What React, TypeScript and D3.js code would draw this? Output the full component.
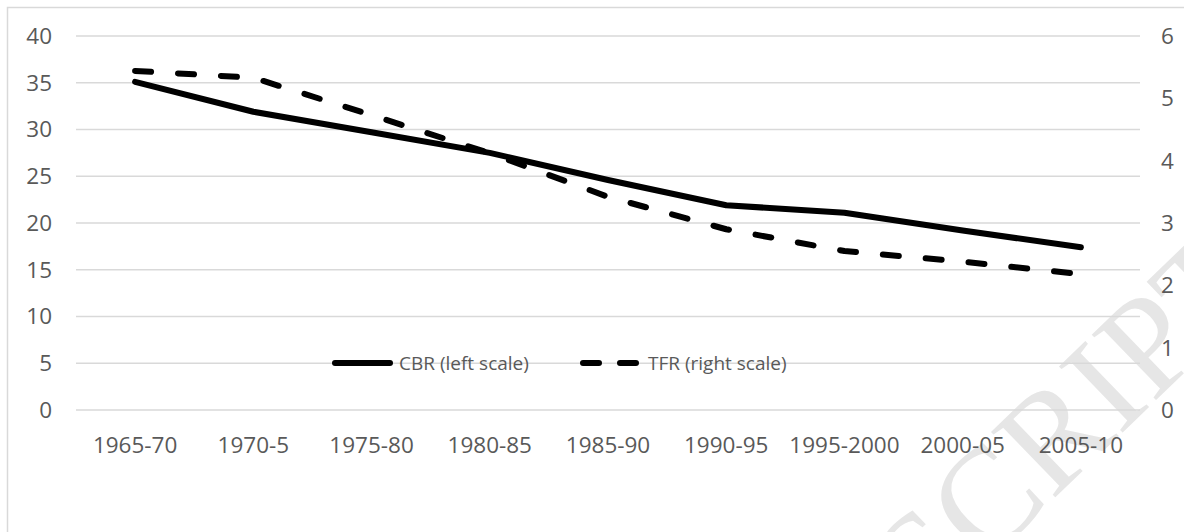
import * as d3 from "d3";

// periods on the x axis
const periods = ["1965-70", "1970-5", "1975-80", "1980-85", "1985-90", "1990-95", "1995-2000", "2000-05", "2005-10"];
// crude birth rate, left scale
const cbr = [35.1, 31.9, 29.7, 27.5, 24.6, 21.9, 21.1, 19.2, 17.4];
// total fertility rate, right scale
const tfr = [5.44, 5.33, 4.73, 4.12, 3.42, 2.9, 2.55, 2.38, 2.18];
const leftTicks = [0, 5, 10, 15, 20, 25, 30, 35, 40];
const rightTicks = [0, 1, 2, 3, 4, 5, 6];

const W = 1184;
const H = 532;
const FONT = "'Open Sans', sans-serif";
const GREY = "#595959";

export default function App() {
  const x = d3.scaleBand<string>().domain(periods).range([76, 1140]).padding(0);
  const yL = d3.scaleLinear().domain([0, 40]).range([410, 36]);
  const yR = d3.scaleLinear().domain([0, 6]).range([410, 36]);
  const cx = (p: string) => (x(p) ?? 0) + x.bandwidth() / 2;

  const cbrLine = d3
    .line<number>()
    .x((_, i) => cx(periods[i]))
    .y((d) => yL(d))(cbr);
  const tfrLine = d3
    .line<number>()
    .x((_, i) => cx(periods[i]))
    .y((d) => yR(d))(tfr);

  return (
    <svg
      width={W}
      height={H}
      style={{ position: "absolute", left: 0, top: 0, background: "#fff" }}
      fontFamily={FONT}
    >
      <rect x={7.5} y={7.5} width={1300} height={700} fill="#fff" stroke="#d9d9d9" strokeWidth={1.5} />

      {/* watermark, cut by the page edge as in the scan */}
      <text
        x={1270}
        y={290}
        transform="rotate(-44 1270 290)"
        textAnchor="end"
        fontFamily="'Liberation Serif', serif"
        fontSize={140}
        fill="#e6e6e6"
      >
        ACCEPTED MANUSCRIPT
      </text>

      {/* gridlines */}
      {leftTicks.map((t) => (
        <line key={t} x1={76} x2={1140} y1={yL(t)} y2={yL(t)} stroke="#d9d9d9" strokeWidth={1.5} />
      ))}

      {/* left axis labels */}
      {leftTicks.map((t) => (
        <text key={t} x={52} y={yL(t)} dy="0.35em" textAnchor="end" fontSize={22.5} fill={GREY}>
          {t}
        </text>
      ))}
      {/* right axis labels */}
      {rightTicks.map((t) => (
        <text key={t} x={1161} y={yR(t)} dy="0.35em" textAnchor="start" fontSize={22.5} fill={GREY}>
          {t}
        </text>
      ))}
      {/* category labels */}
      {periods.map((p) => (
        <text key={p} x={cx(p)} y={453} textAnchor="middle" fontSize={22.5} fill={GREY}>
          {p}
        </text>
      ))}

      <path d={cbrLine ?? ""} fill="none" stroke="#000" strokeWidth={6} strokeLinejoin="round" strokeLinecap="round" />
      <path
        d={tfrLine ?? ""}
        fill="none"
        stroke="#000"
        strokeWidth={6}
        strokeLinejoin="round"
        strokeLinecap="round"
        strokeDasharray="16 27"
      />

      {/* legend */}
      <line x1={335} x2={390} y1={363} y2={363} stroke="#000" strokeWidth={6} strokeLinecap="round" />
      <text x={399} y={363} dy="0.35em" fontSize={19} fill={GREY}>
        CBR (left scale)
      </text>
      <line
        x1={583}
        x2={640}
        y1={363}
        y2={363}
        stroke="#000"
        strokeWidth={6}
        strokeLinecap="round"
        strokeDasharray="16 21"
      />
      <text x={648} y={363} dy="0.35em" fontSize={19} fill={GREY}>
        TFR (right scale)
      </text>
    </svg>
  );
}
